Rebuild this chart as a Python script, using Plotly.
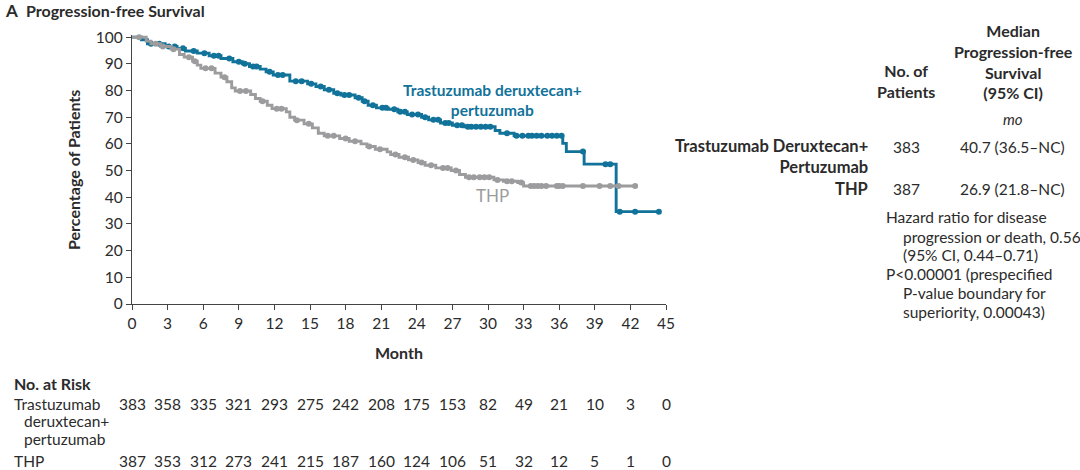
import numpy as np
import plotly.graph_objects as go

# Kaplan-Meier steps (month, % progression-free)
tdxd_t = [0, 0.8, 1.3, 2.8, 3.8, 4.5, 5.5, 6.5, 7.5, 8.5, 9.3, 9.9, 10.8, 11.3, 11.9,
          13.3, 14.8, 15.5, 16.2, 17.0, 17.6, 18.8, 19.4, 19.9, 20.6, 21.6, 22.4, 23.2,
          24.4, 25.0, 26.0, 27.0, 28.0, 30.6, 31.0, 32.2, 36.3, 36.6, 38.1, 40.8, 44.4]
tdxd_s = [100, 99, 97.5, 96.5, 95.8, 94.8, 94, 93, 92, 90.8, 90, 89, 88, 87, 85.8,
          83.5, 82.5, 81.5, 80.3, 79, 78.3, 77.3, 76, 74.5, 73.5, 73, 72, 71,
          70, 69, 67.8, 67, 66.4, 65, 64, 63, 60.2, 57.1, 52.4, 34.6, 34.6]
tdxd_cens = [1.6, 2.3, 3.1, 3.6, 4.3, 5.2, 6.1, 6.9, 7.3, 8.2, 9.0, 9.5, 10.2, 10.5, 11.6,
             12.3, 12.7, 13.8, 14.3, 15.1, 15.9, 16.6, 17.3, 17.9, 18.3, 19.1, 19.6, 20.3,
             21.1, 21.4, 22.1, 22.6, 23.0, 23.6, 24.1, 24.7, 25.4, 25.8, 26.4, 26.7, 27.4,
             27.8, 28.3, 28.6, 29.0, 29.4, 29.8, 30.2, 31.6, 32.4, 32.9, 33.4, 33.7, 34.1,
             34.5, 35.0, 35.4, 35.8, 36.2, 38.0, 39.9, 40.3, 41.1, 42.4, 44.4]

thp_t = [0, 1.2, 1.6, 2.4, 3.3, 4.0, 4.4, 5.1, 5.5, 5.8, 7.0, 7.5, 8.0, 8.4, 8.7, 10.0,
         10.4, 10.8, 11.4, 11.8, 13.0, 13.3, 13.7, 14.5, 15.2, 15.7, 16.2, 17.5, 18.3,
         19.3, 19.8, 20.5, 21.5, 21.8, 22.5, 23.3, 24.1, 24.7, 25.6, 26.9, 27.6, 28.1,
         30.5, 31.3, 32.5, 33.0, 42.4]
thp_s = [100, 98.5, 97.5, 96.5, 95.5, 93.5, 92.5, 91, 89.5, 88.3, 86.5, 85, 83.3, 81, 79.8,
         78.5, 77, 76, 74.5, 73.2, 72, 70, 68.9, 67.5, 66, 64, 63, 62, 61,
         60, 59, 58, 57, 56, 55, 54, 53, 52, 51, 50, 48.5, 47.5,
         46.5, 46, 45.5, 44.2, 44.2]
thp_cens = [0.6, 2.0, 2.6, 3.5, 4.8, 5.3, 6.2, 6.7, 7.8, 9.1, 9.6, 11.0, 12.2, 12.6, 13.9,
            14.9, 16.5, 17.0, 18.0, 18.8, 20.0, 20.9, 22.2, 23.0, 23.7, 24.4, 25.2, 26.2,
            26.6, 27.3, 28.4, 28.8, 29.3, 29.7, 30.1, 30.8, 31.6, 32.0, 32.8, 33.6, 33.9,
            34.2, 34.5, 34.9, 35.8, 36.0, 36.3, 38.0, 39.4, 40.3, 41.0, 42.4]

risk_months = list(range(0, 46, 3))
risk_tdxd = [383, 358, 335, 321, 293, 275, 242, 208, 175, 153, 82, 49, 21, 10, 3, 0]
risk_thp = [387, 353, 312, 273, 241, 215, 187, 160, 124, 106, 51, 32, 12, 5, 1, 0]

BLUE = '#11729a'
GRAY = '#9c9c9e'
TXT = '#2b2b2b'
FONT = 'Lato'

# plot area in pixels
L, R, T, B = 132, 666, 35, 304


def px(x):
    return (x - L) / (R - L)


def py(y):
    return (B - y) / (B - T)


def step_at(times, surv, c):
    i = np.searchsorted(times, c, side='right') - 1
    return surv[i]


fig = go.Figure()
for t, s, cens, col, name in [(tdxd_t, tdxd_s, tdxd_cens, BLUE, 'T-DXd+P'),
                              (thp_t, thp_s, thp_cens, GRAY, 'THP')]:
    fig.add_trace(go.Scatter(x=t, y=s, mode='lines', line=dict(color=col, width=2.9, shape='hv'),
                             name=name, showlegend=False, hoverinfo='skip'))
    cy = [step_at(t, s, c) for c in cens]
    fig.add_trace(go.Scatter(x=cens, y=cy, mode='markers', marker=dict(color=col, size=6),
                             showlegend=False, cliponaxis=False, hoverinfo='skip'))

ann = []


def text(x, y, s, size=15.5, bold=False, color=TXT, anchor='center', align='center', italic=False):
    if bold:
        s = '<b>' + s + '</b>'
    if italic:
        s = '<i>' + s + '</i>'
    ann.append(dict(x=px(x), y=py(y), xref='paper', yref='paper', text=s, showarrow=False,
                    xanchor=anchor, yanchor='middle', align=align,
                    font=dict(family=FONT, size=size, color=color)))


# title and axis titles
text(3, 11, '<b><span style="font-size:17px">A</span></b>  <b>Progression-free Survival</b>',
     size=16, anchor='left')
text(73, 170, 'Percentage of Patients', size=16, bold=True)
ann[-1]['textangle'] = -90
text(399, 352, 'Month', size=16, bold=True)

# curve labels
text(492, 100.5, 'Trastuzumab deruxtecan+<br>pertuzumab', size=15.5, bold=True, color=BLUE)
text(492, 195, 'THP', size=17, color=GRAY)

# right-hand table
text(1013, 61.5, 'Median<br>Progression-free<br>Survival<br>(95% CI)', size=16, bold=True)
text(906, 81.5, 'No. of<br>Patients', size=16, bold=True)
text(1013, 119, 'mo', size=15, italic=True)
text(870, 156, 'Trastuzumab Deruxtecan+<br>Pertuzumab', size=16.5, bold=True, anchor='right', align='right')
text(906, 147, '383')
text(1012, 147, '40.7 (36.5–NC)')
text(870, 189, 'THP', size=16.5, bold=True, anchor='right')
text(906, 189, '387')
text(1012, 189, '26.9 (21.8–NC)')
text(884, 217, 'Hazard ratio for disease', anchor='left')
text(901, 237, 'progression or death, 0.56', anchor='left')
text(901, 255, '(95% CI, 0.44–0.71)', anchor='left')
text(884, 274, 'P&lt;0.00001 (prespecified', anchor='left')
text(901, 293, 'P-value boundary for', anchor='left')
text(901, 312, 'superiority, 0.00043)', anchor='left')

# numbers at risk
text(12, 383, 'No. at Risk', size=16, bold=True, anchor='left')
text(12, 404, 'Trastuzumab', anchor='left')
text(22, 421, 'deruxtecan+', anchor='left')
text(22, 439, 'pertuzumab', anchor='left')
text(12, 461, 'THP', anchor='left')
for m, a, b in zip(risk_months, risk_tdxd, risk_thp):
    xx = L + m * (R - L) / 45
    text(xx, 404, str(a))
    text(xx, 461, str(b))

fig.update_layout(
    width=1080, height=470,
    margin=dict(l=L, r=1080 - R, t=T, b=470 - B),
    paper_bgcolor='white', plot_bgcolor='white',
    font=dict(family=FONT, color=TXT),
    annotations=ann,
)
fig.update_xaxes(range=[0, 45], tickvals=risk_months, ticks='outside', ticklen=5, tickwidth=1.2,
                 tickcolor='#444', showline=True, linecolor='#444', linewidth=1.4,
                 showgrid=False, zeroline=False, tickfont=dict(size=15.5, color=TXT, family=FONT))
fig.update_yaxes(range=[0, 100.8], tickvals=list(range(0, 101, 10)), ticks='outside', ticklen=5,
                 tickwidth=1.2, tickcolor='#444', showline=True, linecolor='#444', linewidth=1.4,
                 showgrid=False, zeroline=False, tickfont=dict(size=15.5, color=TXT, family=FONT))

fig.write_html("out.html", config={'displayModeBar': False},
               post_script="document.body.style.margin='0px';")
